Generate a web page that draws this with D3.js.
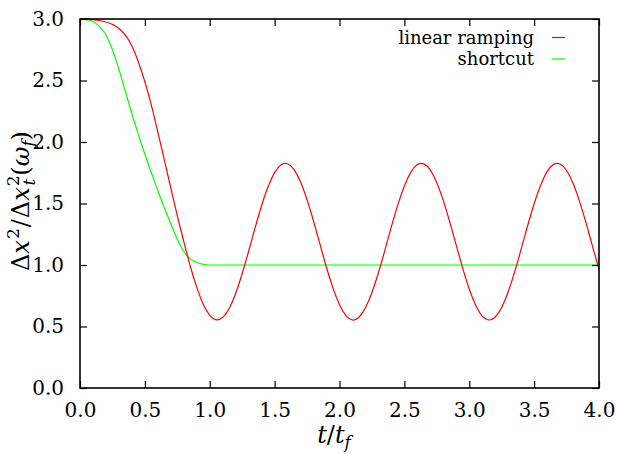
<!DOCTYPE html>
<html>
<head>
<meta charset="utf-8">
<script src="https://cdn.jsdelivr.net/npm/d3@7"></script>
<style>
  body { margin: 0; background: #fff; }
  svg text { font-family: "DejaVu Serif", "Liberation Serif", "Noto Serif", serif; }
</style>
</head>
<body>
<div id="chart"></div>
<script>
// time grid (t / t_f) for the linear ramping curve
const rampT = [0, 0.05, 0.1, 0.15, 0.2, 0.25, 0.3, 0.35, 0.4, 0.45, 0.5, 0.55, 0.6, 0.65, 0.7, 0.75,
  0.8, 0.85, 0.9, 0.95, 1.0, 1.05, 1.1, 1.15, 1.2, 1.25, 1.3, 1.35, 1.4, 1.45, 1.5, 1.55, 1.6, 1.65,
  1.7, 1.75, 1.8, 1.85, 1.9, 1.95, 2.0, 2.05, 2.1, 2.15, 2.2, 2.25, 2.3, 2.35, 2.4, 2.45, 2.5, 2.55,
  2.6, 2.65, 2.7, 2.75, 2.8, 2.85, 2.9, 2.95, 3.0, 3.05, 3.1, 3.15, 3.2, 3.25, 3.3, 3.35, 3.4, 3.45,
  3.5, 3.55, 3.6, 3.65, 3.7, 3.75, 3.8, 3.85, 3.9, 3.95, 4.0];
const rampValues = [3.0, 3.0, 2.995, 2.988, 2.976, 2.956, 2.923, 2.868, 2.78, 2.65, 2.49, 2.30, 2.08, 1.855, 1.625, 1.40,
  1.19, 0.99, 0.82, 0.68, 0.59, 0.554, 0.574, 0.647, 0.77, 0.931, 1.114, 1.304, 1.484, 1.638, 1.751, 1.815, 1.823, 1.775,
  1.674, 1.53, 1.356, 1.167, 0.98, 0.812, 0.677, 0.588, 0.553, 0.575, 0.652, 0.776, 0.937, 1.121, 1.312, 1.491, 1.643, 1.755,
  1.817, 1.822, 1.772, 1.669, 1.523, 1.349, 1.159, 0.973, 0.805, 0.673, 0.585, 0.553, 0.577, 0.655, 0.782, 0.944, 1.129, 1.319,
  1.498, 1.649, 1.759, 1.818, 1.821, 1.768, 1.664, 1.517, 1.342, 1.152, 0.966];

// shortcut curve
const shortcutT = [0, 0.05, 0.1, 0.15, 0.2, 0.25, 0.3, 0.35, 0.4, 0.45, 0.5, 0.55, 0.6, 0.65, 0.7, 0.75,
  0.8, 0.85, 0.9, 0.95, 1.0, 1.5, 2.0, 2.5, 3.0, 3.5, 4.0];
const shortcutValues = [3.0, 2.995, 2.98, 2.94, 2.87, 2.75, 2.59, 2.41, 2.23, 2.06, 1.90, 1.75, 1.605, 1.465, 1.335, 1.21,
  1.11, 1.05, 1.02, 1.005, 1.0, 1.0, 1.0, 1.0, 1.0, 1.0, 1.0];

const xTicks = [0, 0.5, 1.0, 1.5, 2.0, 2.5, 3.0, 3.5, 4.0];
const yTicks = [0, 0.5, 1.0, 1.5, 2.0, 2.5, 3.0];
const seriesNames = ['linear ramping', 'shortcut'];
const seriesColors = ['#ff0000', '#00ff00'];

(function() {
  const width = 617;
  const height = 454;
  const margin = { top: 19, left: 80, right: 18, bottom: 66 };
  const fontSize = 20;
  const tickLen = 7;

  const svg = d3.select('#chart').append('svg')
      .attr('width', width)
      .attr('height', height);

  const x = d3.scaleLinear([0, 4], [margin.left, width - margin.right]);
  const y = d3.scaleLinear([0, 3], [height - margin.bottom, margin.top]);

  // curves
  const greenLine = d3.line()
      .x(d => x(d[0]))
      .y(d => y(d[1]))
      .curve(d3.curveMonotoneX);
  const redLine = d3.line()
      .x(d => x(d[0]))
      .y(d => y(d[1]))
      .curve(d3.curveNatural);

  svg.append('path')
      .datum(d3.zip(shortcutT, shortcutValues))
      .attr('d', greenLine)
      .attr('fill', 'none')
      .attr('stroke', seriesColors[1])
      .attr('stroke-width', 1.2);

  svg.append('path')
      .datum(d3.zip(rampT, rampValues))
      .attr('d', redLine)
      .attr('fill', 'none')
      .attr('stroke', seriesColors[0])
      .attr('stroke-width', 1.2);

  // axes, ticks inward, mirrored on all sides
  const fmt = d3.format('.1f');
  const bottomAxis = svg.append('g')
      .attr('transform', `translate(0, ${height - margin.bottom})`)
      .call(d3.axisBottom(x).tickValues(xTicks).tickFormat(fmt).tickSizeInner(-tickLen).tickSizeOuter(0).tickPadding(15));
  const leftAxis = svg.append('g')
      .attr('transform', `translate(${margin.left}, 0)`)
      .call(d3.axisLeft(y).tickValues(yTicks).tickFormat(fmt).tickSizeInner(-tickLen).tickSizeOuter(0).tickPadding(16));
  const topAxis = svg.append('g')
      .attr('transform', `translate(0, ${margin.top})`)
      .call(d3.axisTop(x).tickValues(xTicks).tickFormat('').tickSizeInner(-tickLen).tickSizeOuter(0));
  const rightAxis = svg.append('g')
      .attr('transform', `translate(${width - margin.right}, 0)`)
      .call(d3.axisRight(y).tickValues(yTicks).tickFormat('').tickSizeInner(-tickLen).tickSizeOuter(0));

  [bottomAxis, leftAxis, topAxis, rightAxis].forEach(g => {
    g.attr('font-family', null);
    g.select('.domain').remove();
    g.selectAll('line').attr('stroke', '#000').attr('stroke-width', 1.2);
    g.selectAll('text')
        .attr('font-size', fontSize)
        .attr('fill', '#000');
  });

  // frame
  svg.append('rect')
      .attr('x', margin.left)
      .attr('y', margin.top)
      .attr('width', width - margin.left - margin.right)
      .attr('height', height - margin.top - margin.bottom)
      .attr('fill', 'none')
      .attr('stroke', '#000')
      .attr('stroke-width', 1.6);

  // legend
  const legend = svg.append('g');
  seriesNames.forEach((name, i) => {
    const cy = 37.5 + i * 21.5;
    legend.append('text')
        .attr('x', 534)
        .attr('y', cy + 6)
        .attr('text-anchor', 'end')
        .attr('font-size', 18)
        .text(name);
    legend.append('line')
        .attr('x1', 552).attr('x2', 565)
        .attr('y1', cy).attr('y2', cy)
        .attr('stroke', seriesColors[i])
        .attr('stroke-width', 1.2);
  });

  // x label: t/t_f
  const xl = svg.append('text')
      .attr('x', 334)
      .attr('y', 443)
      .attr('text-anchor', 'middle')
      .attr('font-size', 24);
  xl.append('tspan').attr('font-style', 'italic').text('t');
  xl.append('tspan').text('/');
  xl.append('tspan').attr('font-style', 'italic').text('t');
  xl.append('tspan').attr('font-style', 'italic').attr('font-size', 17).attr('dy', 5).text('f');

  // y label: Δx²/Δx_t²(ω_f)
  const yl = svg.append('text')
      .attr('text-anchor', 'middle')
      .attr('font-size', 24);
  yl.append('tspan').text('Δ');
  yl.append('tspan').attr('font-style', 'italic').text('x');
  yl.append('tspan').attr('font-size', 17).attr('dy', -10).attr('dx', 1).text('2');
  yl.append('tspan').attr('dy', 10).attr('dx', 1).text('/');
  yl.append('tspan').attr('dx', 1).text('Δ');
  yl.append('tspan').attr('font-style', 'italic').text('x');
  yl.append('tspan').attr('font-size', 17).attr('dy', -10).attr('dx', 1).text('2');
  yl.append('tspan').attr('font-size', 17).attr('font-style', 'italic').attr('dx', -10).attr('dy', 16).text('t');
  yl.append('tspan').attr('dy', -6).attr('dx', 3).text('(');
  yl.append('tspan').attr('font-style', 'italic').text('ω');
  yl.append('tspan').attr('font-size', 17).attr('font-style', 'italic').attr('dy', 5).text('f');
  yl.append('tspan').attr('dy', -5).text(')');
  // fit the label length to the span it has in the reference
  const labelLen = yl.node().getBBox().width;
  const k = Math.min(1, 158 / labelLen);
  yl.attr('transform', `translate(29, 201) rotate(-90) scale(${k})`);
})();
</script>
</body>
</html>
